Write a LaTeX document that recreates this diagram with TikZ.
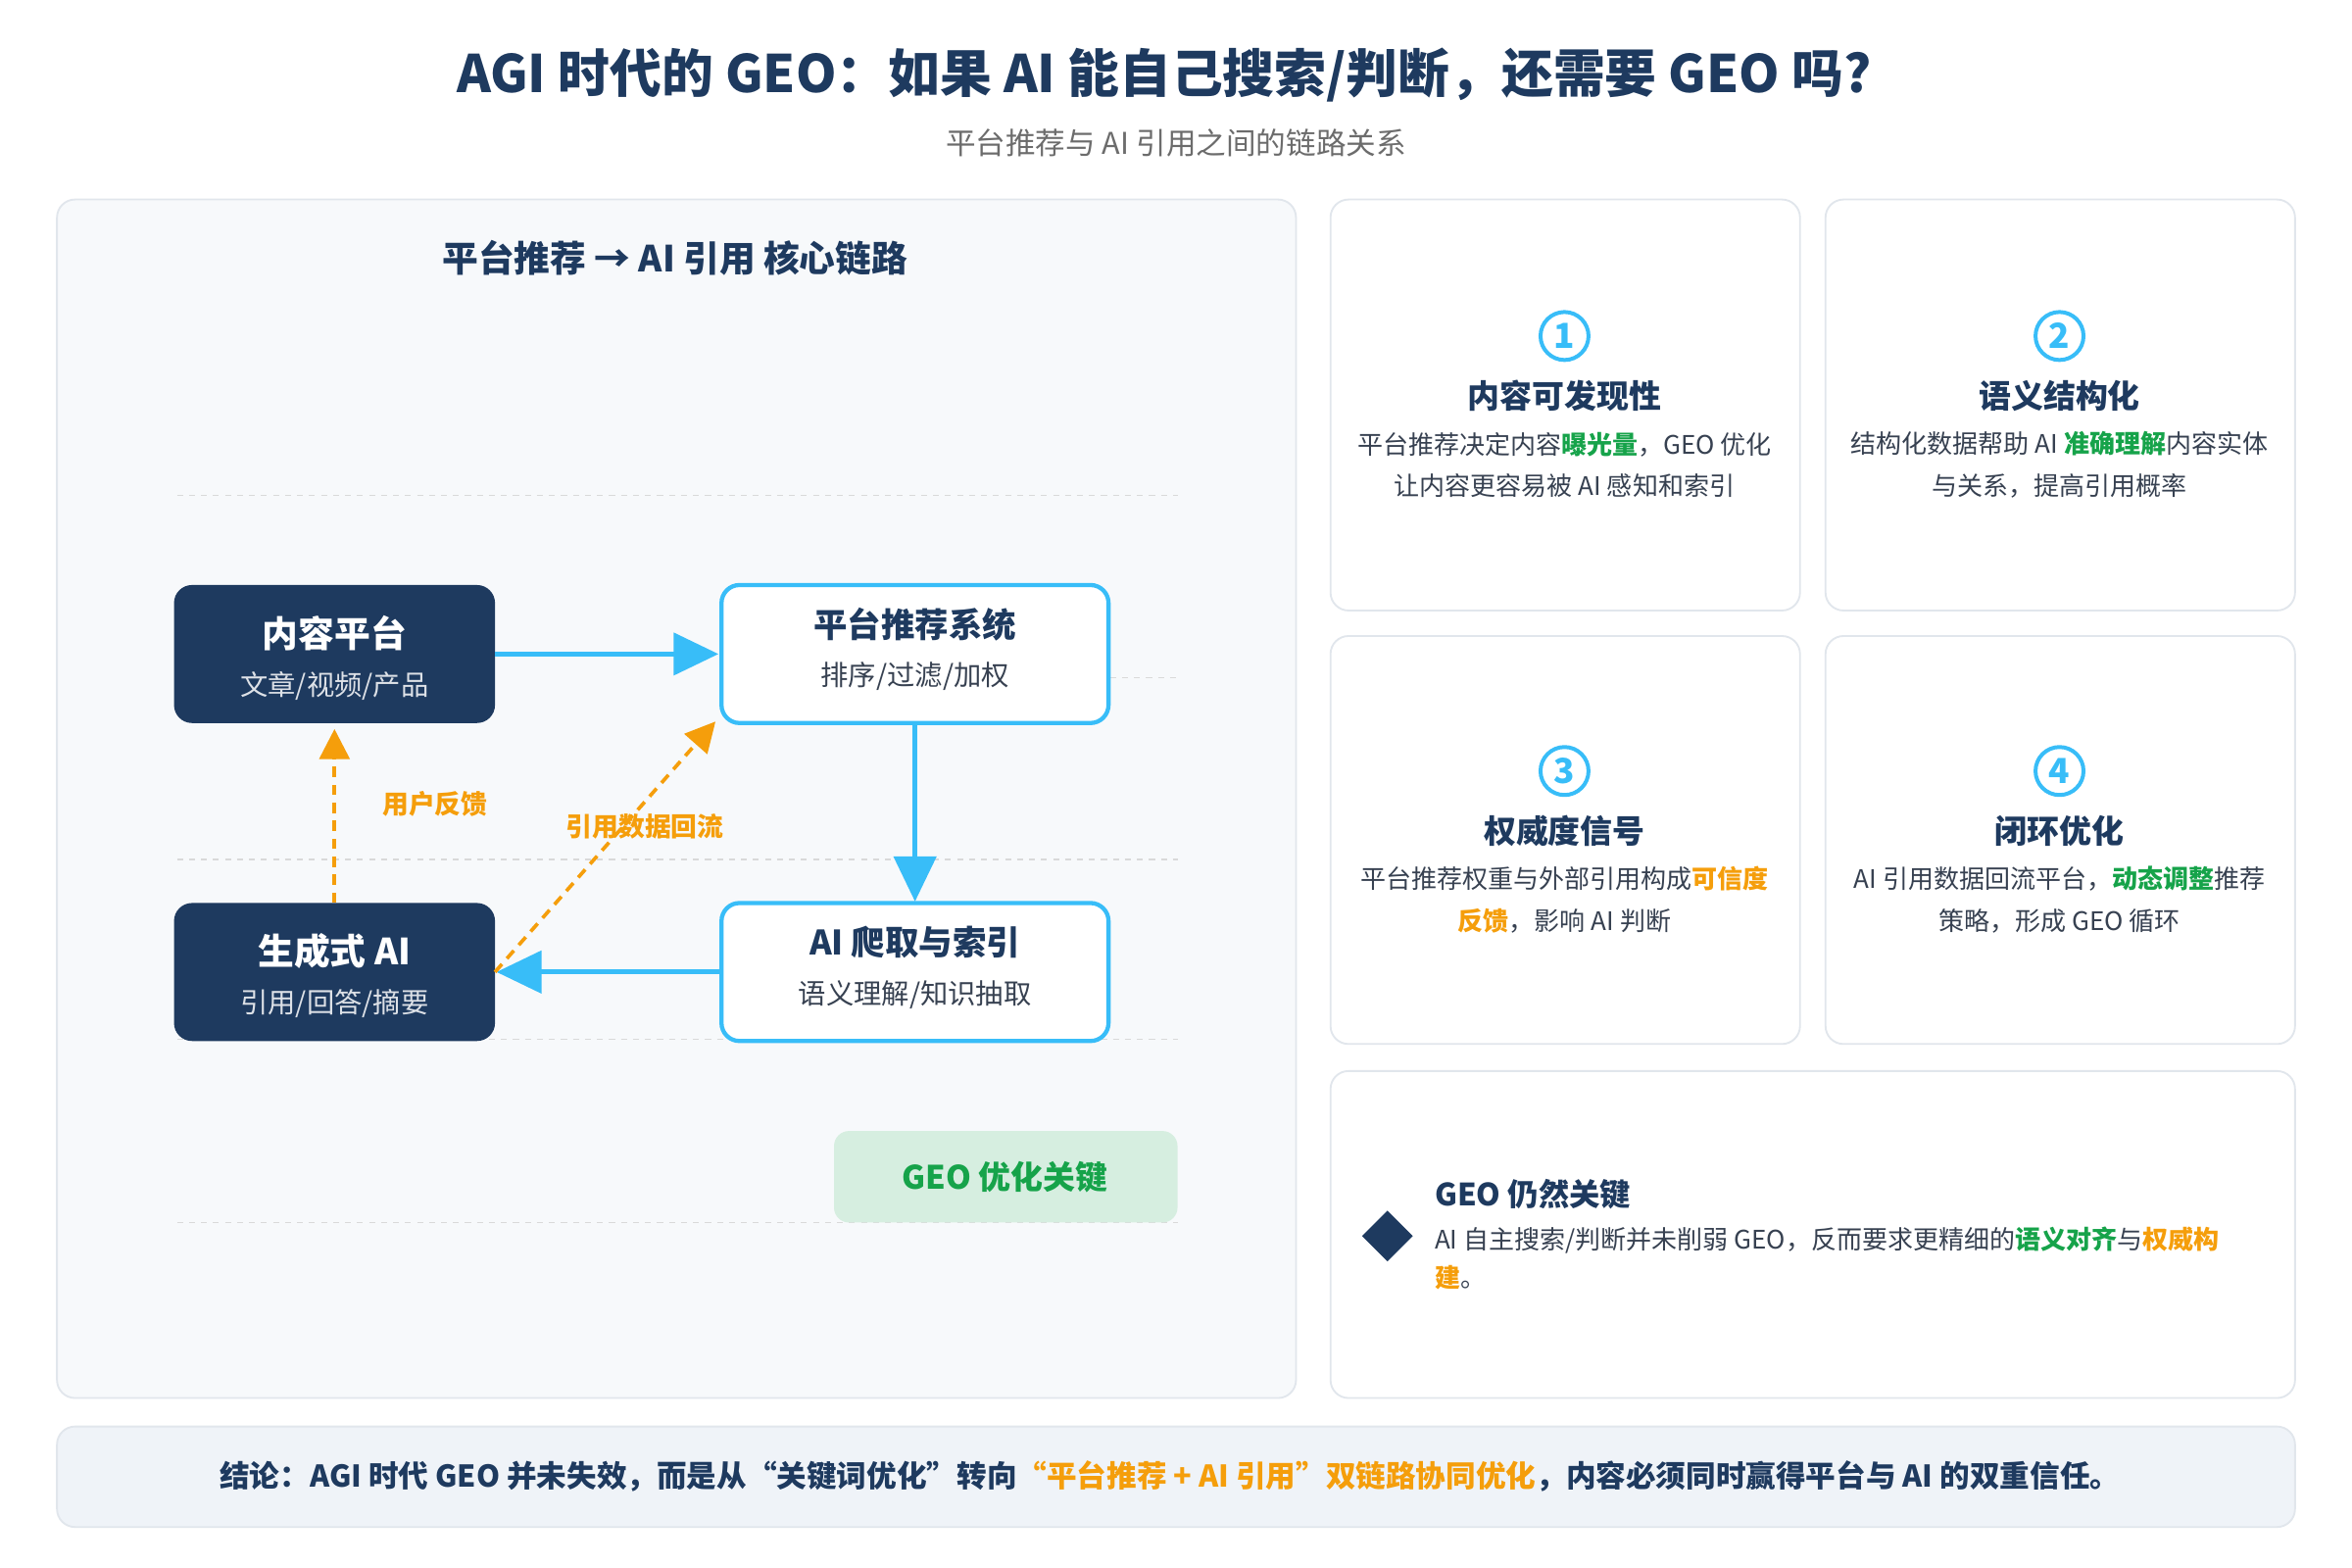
\documentclass[tikz,border=0pt]{standalone}
\usepackage{fontspec}
\setmainfont{Noto Sans CJK SC}
\usetikzlibrary{arrows.meta,shapes.geometric}
\definecolor{navy}{HTML}{1E3A5F}
\definecolor{cyanb}{HTML}{38BDF8}
\definecolor{orng}{HTML}{F59E0B}
\definecolor{grn}{HTML}{16A34A}
\definecolor{txt}{HTML}{374151}
\definecolor{bord}{HTML}{E1E6EC}
\definecolor{pbg}{HTML}{F7F9FB}
\definecolor{bbg}{HTML}{EFF3F8}
\definecolor{gbg}{HTML}{D6EEE0}
\newcommand{\fs}[1]{\fontsize{#1pt}{1.65\dimexpr#1pt\relax}\selectfont}
\begin{document}
\begin{tikzpicture}[x=1pt,y=-1pt,
  panel/.style={draw=bord,line width=1.2pt,rounded corners=12pt},
  dark/.style={fill=navy,rounded corners=12pt},
  light/.style={draw=cyanb,fill=white,line width=2.8pt,rounded corners=12pt},
  flow/.style={draw=cyanb,line width=3.2pt,-{Triangle[length=30pt,width=28pt]}},
  fb/.style={draw=orng,line width=2.4pt,dash pattern=on 7pt off 5pt,-{Triangle[length=20pt,width=20pt]}},
  guide/.style={draw=gray!30,line width=0.8pt,dash pattern=on 4pt off 4pt},
  ctitle/.style={font=\fs{21.5}\bfseries,text=navy},
  ctext/.style={font=\fs{17},text=txt,align=center},
  num/.style={circle,draw=cyanb,line width=2.6pt,minimum size=32pt,inner sep=0pt,text=cyanb,font=\fs{23}\bfseries}]
\useasboundingbox[fill=white] (0,0) rectangle (1568,1045);
\node[font=\fs{34.5}\bfseries,text=navy] (title) at (776,50) {AGI 时代的 GEO：如果 AI 能自己搜索/判断，还需要 GEO 吗?};
\node[font=\fs{20},text=gray!85!black] (sub) at (784,95) {平台推荐与 AI 引用之间的链路关系};
% left panel
\path[panel,fill=pbg] (38,133) rectangle (864,932);
\node[font=\fs{24}\bfseries,text=navy] (lt) at (450,172) {平台推荐 → AI 引用 核心链路};
\foreach \y/\a/\b in {330/118/785,452/740/785,573/118/785,693/118/785,815/118/785}
  \draw[guide] (\a,\y) -- (\b,\y);
% nodes
\path[dark] (116,390) rectangle (330,482);
\node[font=\fs{24}\bfseries,text=white] (cp) at (223,422) {内容平台};
\node[font=\fs{18.5},text=white!85!navy] at (223,457) {文章/视频/产品};
\coordinate (cpR) at (330,436); \coordinate (cpB) at (223,486);
\path[light] (481,390) rectangle (739,482);
\node[font=\fs{22.5}\bfseries,text=navy] (rec) at (610,416) {平台推荐系统};
\node[font=\fs{18.5},text=txt] at (610,451) {排序/过滤/加权};
\coordinate (recL) at (479,436); \coordinate (recB) at (610,483); \coordinate (recBL) at (477,481);
\path[dark] (116,602) rectangle (330,694);
\node[font=\fs{24}\bfseries,text=white] (gen) at (223,634) {生成式 AI};
\node[font=\fs{18.5},text=white!85!navy] at (223,669) {引用/回答/摘要};
\coordinate (genR) at (331,648); \coordinate (genT) at (223,602); \coordinate (genRT) at (330,648);
\path[light] (481,602) rectangle (739,694);
\node[font=\fs{22.5}\bfseries,text=navy] (crawl) at (610,628) {AI 爬取与索引};
\node[font=\fs{18.5},text=txt] at (610,663) {语义理解/知识抽取};
\coordinate (crT) at (610,601); \coordinate (crL) at (480,648);
\draw[flow] (cpR) -- (recL);
\draw[flow] (recB) -- (crT);
\draw[flow] (crL) -- (genR);
\draw[fb] (genT) -- (cpB);
\draw[fb] (genRT) -- (recBL);
\node[font=\fs{17.5}\bfseries,text=orng] (l1) at (290,536) {用户反馈};
\node[font=\fs{17.5}\bfseries,text=orng] (l2) at (430,551) {引用数据回流};
\path[fill=gbg,rounded corners=10pt] (556,754) rectangle (785,815);
\node[font=\fs{21.5}\bfseries,text=grn] (key) at (670,785) {GEO 优化关键};
% cards
\foreach \x/\y/\h in {887/133/274,1217/133/274,887/424/272,1217/424/272}
  \path[panel,fill=white] (\x,\y) rectangle ++(313,\h);
\path[panel,fill=white] (887,714) rectangle (1530,932);
\node[num] (n1) at (1043,224) {1};
\node[ctitle] (t1) at (1043,264) {内容可发现性};
\node[ctext] at (1043,310) {平台推荐决定内容\textcolor{grn}{\bfseries 曝光量}，GEO 优化\\让内容更容易被 AI 感知和索引};
\node[num] (n2) at (1373,224) {2};
\node[ctitle] (t2) at (1373,264) {语义结构化};
\node[ctext] at (1373,310) {结构化数据帮助 AI \textcolor{grn}{\bfseries 准确理解}内容实体\\与关系，提高引用概率};
\node[num] (n3) at (1043,514) {3};
\node[ctitle] (t3) at (1043,554) {权威度信号};
\node[ctext] at (1043,600) {平台推荐权重与外部引用构成\textcolor{orng}{\bfseries 可信度}\\\textcolor{orng}{\bfseries 反馈}，影响 AI 判断};
\node[num] (n4) at (1373,514) {4};
\node[ctitle] (t4) at (1373,554) {闭环优化};
\node[ctext] at (1373,600) {AI 引用数据回流平台，\textcolor{grn}{\bfseries 动态调整}推荐\\策略，形成 GEO 循环};
\node[diamond,fill=navy,minimum size=34pt,inner sep=0pt] (dm) at (925,824) {};
\node[font=\fs{20.5}\bfseries,text=navy,anchor=west] (t5) at (953,796) {GEO 仍然关键};
\node[font=\fs{17},text=txt,anchor=west] at (953,827) {AI 自主搜索/判断并未削弱 GEO，反而要求更精细的\textcolor{grn}{\bfseries 语义对齐}与\textcolor{orng}{\bfseries 权威构}};
\node[font=\fs{17},text=txt,anchor=west] at (953,852) {\textcolor{orng}{\bfseries 建}。};
% bottom
\path[panel,fill=bbg] (38,951) rectangle (1530,1018);
\node[font=\fs{20}\bfseries,text=navy] (conc) at (780,984) {结论：AGI 时代 GEO 并未失效，而是从“关键词优化”转向\textcolor{orng}{“平台推荐 + AI 引用”双链路协同优化}，内容必须同时赢得平台与 AI 的双重信任。};
\end{tikzpicture}
\end{document}
